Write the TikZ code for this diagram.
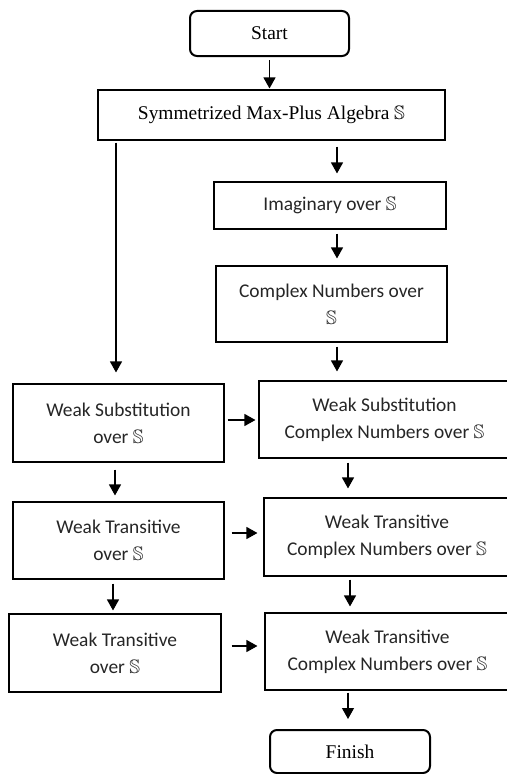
\documentclass[tikz,border=0pt]{standalone}
\usepackage{amssymb}
\usepackage{fontspec}
\setmainfont{Liberation Serif}
\newfontfamily\calfont{Carlito}
\usetikzlibrary{arrows.meta}
\tikzset{
  box/.style={draw, line width=1.1bp, inner sep=0pt, align=center, text=black!85,
    font=\calfont\fontsize{19.5}{27}\selectfont},
  tbox/.style={draw, line width=1.1bp, inner sep=0pt, align=center,
    font=\fontsize{19.5}{23}\selectfont},
  term/.style={draw, line width=2bp, rounded corners=7bp, inner sep=0pt, align=center,
    font=\fontsize{19.5}{23}\selectfont},
  arr/.style={line width=1.2bp, -{Triangle[width=12bp,length=11bp]}}
}
\newcommand{\dsS}{$\mathbb{S}$}
\begin{document}
\begin{tikzpicture}[x=1bp,y=-1bp]
\useasboundingbox (0,0) rectangle (507,774);
\clip (0,0) rectangle (507,774);
\fill[white] (0,0) rectangle (507,774);
% nodes
\node[term, minimum width=159bp, minimum height=45bp] (start) at (269.5,33.5) {Start};
\node[tbox, minimum width=347bp, minimum height=50bp] (sym) at (271.5,115) {Symmetrized Max-Plus Algebra \dsS};
\node[box, minimum width=232bp, minimum height=47bp] (imag) at (330,205.5) {Imaginary over \dsS};
\node[box, minimum width=231bp, minimum height=76bp] (cplx) at (331.5,304) {Complex Numbers over\\\dsS};
\node[box, minimum width=211bp, minimum height=78bp] (wsl) at (118.5,423) {Weak Substitution\\over \dsS};
\node[box, minimum width=251bp, minimum height=77bp] (wsr) at (384.5,419.5) {Weak Substitution\\Complex Numbers over \dsS};
\node[box, minimum width=211bp, minimum height=77bp] (wtl) at (118.5,540.5) {Weak Transitive\\over \dsS};
\node[box, minimum width=246bp, minimum height=78bp] (wtr) at (387,537) {Weak Transitive\\Complex Numbers over \dsS};
\node[box, minimum width=245bp, minimum height=77bp] (wtrr) at (387.5,651.5) {Weak Transitive\\Complex Numbers over \dsS};
\node[box, minimum width=212bp, minimum height=78bp] (wtll) at (115,653) {Weak Transitive\\over \dsS};
\node[term, minimum width=160bp, minimum height=43bp] (finish) at (350,751.5) {Finish};
% connectors
\draw[arr, shorten <=3bp, shorten >=1bp] (start.south) -- (start.south |- sym.north);
\draw[arr, shorten <=6bp, shorten >=8bp] ([xshift=7bp]imag.north |- sym.south) -- ([xshift=7bp]imag.north);
\draw[arr, shorten <=2bp, shorten >=11bp] ([xshift=-2.5bp]wsl.north |- sym.south) -- ([xshift=-2.5bp]wsl.north);
\draw[arr, shorten <=4bp, shorten >=7bp] ([xshift=5.5bp]cplx.north |- imag.south) -- ([xshift=5.5bp]cplx.north);
\draw[arr, shorten <=4bp, shorten >=9bp] ([xshift=5.5bp]cplx.south) -- ([xshift=5.5bp]cplx.south |- wsr.north);
\draw[arr, shorten <=3bp, shorten >=3bp] ([yshift=3bp]wsl.east) -- ([yshift=3bp]wsl.east -| wsr.west);
\draw[arr, shorten <=7bp, shorten >=6bp] ([xshift=-3.5bp]wsl.south) -- ([xshift=-3.5bp]wsl.south |- wtl.north);
\draw[arr, shorten <=4bp, shorten >=9bp] ([xshift=-36.5bp]wsr.south) -- ([xshift=-36.5bp]wsr.south |- wtr.north);
\draw[arr, shorten <=7bp, shorten >=6bp] ([yshift=7.5bp]wtl.east) -- ([yshift=7.5bp]wtl.east -| wtr.west);
\draw[arr, shorten <=4bp, shorten >=3bp] ([xshift=-2bp]wtll.north |- wtl.south) -- ([xshift=-2bp]wtll.north);
\draw[arr, shorten <=3bp, shorten >=6bp] ([xshift=-37.5bp]wtrr.north |- wtr.south) -- ([xshift=-37.5bp]wtrr.north);
\draw[arr, shorten <=10bp, shorten >=7bp] ([yshift=7bp]wtll.east) -- ([yshift=7bp]wtll.east -| wtrr.west);
\draw[arr, shorten <=2bp, shorten >=10bp] ([xshift=-2bp]finish.north |- wtrr.south) -- ([xshift=-2bp]finish.north);
\end{tikzpicture}
\end{document}
